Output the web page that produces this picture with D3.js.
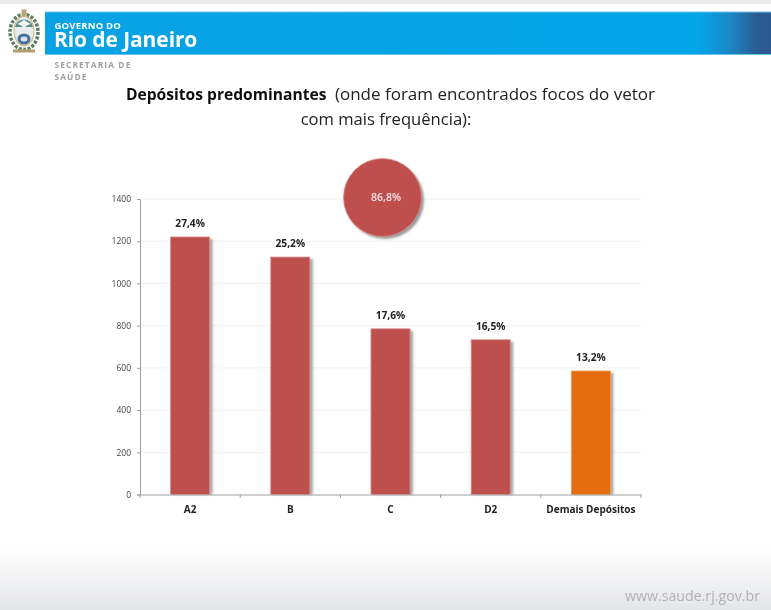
<!DOCTYPE html>
<html lang="pt"><head><meta charset="utf-8">
<style>html,body{margin:0;padding:0;background:#fff;overflow:hidden}svg{display:block}text{font-family:"Open Sans","Noto Sans",sans-serif}</style>
<script src="https://cdn.jsdelivr.net/npm/d3@7/dist/d3.min.js"></script>
</head><body><div id="chart"></div>
<script>
const categories = ["A2","B","C","D2","Demais Depósitos"];
const values = [1220,1125,785,733,585];
const percentLabels = ["27,4%","25,2%","17,6%","16,5%","13,2%"];
const barColors = ["#bf504e","#bf504e","#bf504e","#bf504e","#e46c0a"];
const barEdges = ["#d98f8d","#d98f8d","#d98f8d","#d98f8d","#f0a050"];
const yTicks = [0,200,400,600,800,1000,1200,1400];
const totalLabel = "86,8%";

const W=771,H=610;
const svg=d3.select("#chart").append("svg").attr("width",W).attr("height",H);
const defs=svg.append("defs");
const soft=defs.append("filter").attr("id","soft");
soft.append("feGaussianBlur").attr("stdDeviation",0.5);
const shadow=defs.append("filter").attr("id","shadow").attr("x","-30%").attr("y","-20%").attr("width","170%").attr("height","150%");
shadow.append("feGaussianBlur").attr("stdDeviation",1.3);
const bandGrad=defs.append("linearGradient").attr("id","band");
[[0,"#07a2e4"],[0.9,"#03a5e9"],[0.945,"#1b86c4"],[0.98,"#2c5c92"],[1,"#2c5a90"]].forEach(([o,c])=>bandGrad.append("stop").attr("offset",o).attr("stop-color",c));
const footGrad=defs.append("linearGradient").attr("id","foot").attr("x1",0).attr("x2",0).attr("y1",0).attr("y2",1);
[[0,"#ffffff"],[1,"#e4e5e8"]].forEach(([o,c])=>footGrad.append("stop").attr("offset",o).attr("stop-color",c));

// page furniture
svg.append("rect").attr("x",0).attr("y",0).attr("width",W).attr("height",4).attr("fill","#ebebed");
svg.append("rect").attr("x",0).attr("y",550).attr("width",W).attr("height",60).attr("fill","url(#foot)");
svg.append("rect").attr("x",45).attr("y",11.5).attr("width",W-45).attr("height",43.5).attr("fill","#6cc6ee");
svg.append("rect").attr("x",45).attr("y",12.5).attr("width",W-45).attr("height",41.5).attr("fill","url(#band)");

// crest
const crest=svg.append("g").attr("filter","url(#soft)");
crest.append("ellipse").attr("cx",24).attr("cy",32).attr("rx",14).attr("ry",17.5).attr("fill","#fff").attr("stroke","#5f7f5f").attr("stroke-width",3.5).attr("stroke-dasharray","3 1.5");
crest.append("ellipse").attr("cx",24).attr("cy",31).attr("rx",10.5).attr("ry",15.5).attr("fill","#c9b98a");
crest.append("ellipse").attr("cx",24).attr("cy",31).attr("rx",9.5).attr("ry",14).attr("fill","#e8ecec");
crest.append("path").attr("d","M15 27 A9.5 11 0 0 1 33 27 Z").attr("fill","#5d8f8a");
crest.append("path").attr("d","M17.5 24 L24 20 L30.5 24 L26 26 L24 31 L22 26 Z").attr("fill","#f4f6f4");
crest.append("ellipse").attr("cx",24).attr("cy",39).attr("rx",6.5).attr("ry",5.5).attr("fill","#4a6f9a");
crest.append("ellipse").attr("cx",24).attr("cy",39).attr("rx",3.5).attr("ry",2.5).attr("fill","#d8e2ea");
crest.append("rect").attr("x",13).attr("y",49.5).attr("width",22).attr("height",3).attr("fill","#b0a070");
crest.append("rect").attr("x",21.5).attr("y",9.5).attr("width",5).attr("height",6).attr("fill","#b9a878");

const txt=svg.append("g").attr("filter","url(#soft)");
txt.append("text").attr("x",54.5).attr("y",28.5).attr("font-size",9.5).attr("font-weight",700).attr("letter-spacing",0.2).attr("fill","#fff").text("GOVERNO DO");
txt.append("text").attr("x",54).attr("y",47).attr("font-size",21).attr("font-weight",700).attr("letter-spacing",-0.1).attr("fill","#fff").text("Rio de Janeiro");
txt.append("text").attr("x",54.5).attr("y",68).attr("font-size",8.4).attr("font-weight",700).attr("letter-spacing",1.1).attr("fill","#a0a0a0").text("SECRETARIA DE");
txt.append("text").attr("x",54.5).attr("y",80).attr("font-size",8.4).attr("font-weight",700).attr("letter-spacing",1.1).attr("fill","#a0a0a0").text("SAÚDE");

// title
const titleG=svg.append("g").attr("filter","url(#soft)");
const t1=titleG.append("text").attr("x",126).attr("y",100).attr("fill","#111");
t1.append("tspan").attr("font-size",15.6).attr("font-weight",700).text("Depósitos predominantes");
t1.append("tspan").attr("dx",8.5).attr("font-size",17).attr("font-weight",400).attr("fill","#222").text("(onde foram encontrados focos do vetor");
titleG.append("text").attr("x",386).attr("y",125).attr("text-anchor","middle").attr("font-size",16.6).attr("fill","#222").text("com mais frequência):");

// chart
const x=d3.scaleBand().domain(categories).range([140,641]).paddingInner(0.61).paddingOuter(0.305);
const y=d3.scaleLinear().domain([0,1400]).range([494.5,199]);

const g=svg.append("g").attr("filter","url(#soft)");
g.selectAll("line.grid").data(yTicks.slice(1)).join("line").attr("class","grid")
 .attr("x1",140).attr("x2",641).attr("y1",d=>y(d)).attr("y2",d=>y(d)).attr("stroke","#f1f1f1");

// bar shadows
g.selectAll("rect.sh").data(values).join("rect").attr("class","sh")
 .attr("x",(d,i)=>x(categories[i])+3).attr("y",d=>y(d)+2).attr("width",x.bandwidth()).attr("height",d=>y(0)-y(d)-2)
 .attr("fill","#a8a8a8").attr("filter","url(#shadow)");
g.selectAll("rect.bar").data(values).join("rect").attr("class","bar")
 .attr("x",(d,i)=>x(categories[i])).attr("y",d=>y(d)).attr("width",x.bandwidth()).attr("height",d=>y(0)-y(d))
 .attr("fill",(d,i)=>barColors[i]).attr("stroke",(d,i)=>barEdges[i]).attr("stroke-width",0.8);

const yAxis=g.append("g").attr("transform","translate(140,0)").call(d3.axisLeft(y).tickValues(yTicks).tickFormat(d3.format("d")).tickSize(3).tickPadding(6));
yAxis.select(".domain").attr("stroke","#a0a0a0");
yAxis.selectAll("line").attr("stroke","#a0a0a0");
yAxis.selectAll("text").attr("font-size",8.5).attr("fill","#444").style("font-family","'Open Sans',sans-serif");

const xAxis=g.append("g").attr("transform","translate(0,494.5)").call(d3.axisBottom(x).tickSize(0).tickPadding(11));
xAxis.select(".domain").attr("stroke","#a0a0a0");
xAxis.selectAll("text").attr("font-size",10).attr("font-weight",700).attr("fill","#222").style("font-family","'Open Sans',sans-serif");
const edges=d3.range(categories.length+1).map(i=>140+i*(641-140)/categories.length);
g.selectAll("line.sep").data(edges).join("line").attr("class","sep")
 .attr("x1",d=>d).attr("x2",d=>d).attr("y1",494.5).attr("y2",498).attr("stroke","#a0a0a0");

g.selectAll("text.pct").data(percentLabels).join("text").attr("class","pct")
 .attr("x",(d,i)=>x(categories[i])+x.bandwidth()/2).attr("y",(d,i)=>y(values[i])-10)
 .attr("text-anchor","middle").attr("font-size",10.2).attr("font-weight",700).attr("fill","#222").text(d=>d);

// bubble
g.append("circle").attr("cx",385).attr("cy",200).attr("r",39).attr("fill","#9a9a9a").attr("filter","url(#shadow)");
g.append("circle").attr("cx",382.5).attr("cy",197.5).attr("r",39).attr("fill","#bf504e").attr("stroke","#d98f8d").attr("stroke-width",0.8);
g.append("text").attr("x",386).attr("y",201).attr("text-anchor","middle").attr("font-size",10.5).attr("font-weight",600).attr("fill","#f6e4e4").text(totalLabel);

txt.append("text").attr("x",760).attr("y",601).attr("text-anchor","end").attr("font-size",14.2).attr("fill","#b0b2b6").text("www.saude.rj.gov.br");
</script></body></html>
